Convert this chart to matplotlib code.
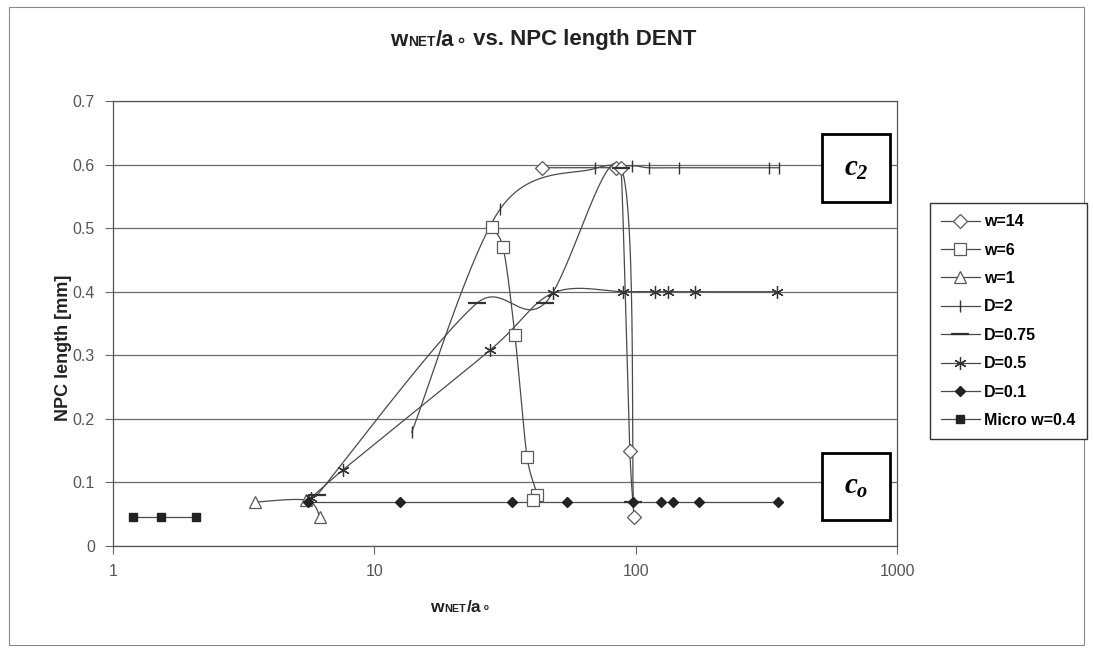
"""
wNET/a0 vs. NPC length DENT  (re-drawn from an Excel chart)
"""
import numpy as np
import matplotlib
matplotlib.use("Agg")
import matplotlib.pyplot as plt
from matplotlib.patches import Rectangle
from matplotlib.offsetbox import TextArea, HPacker, AnchoredOffsetbox

plt.rcParams['font.family'] = ['Liberation Sans', 'DejaVu Sans']
plt.rcParams['mathtext.fontset'] = 'custom'
plt.rcParams['mathtext.it'] = 'Liberation Serif:italic:bold'
plt.rcParams['mathtext.rm'] = 'Liberation Serif:italic:bold'

# ---- data ----
w14_x = [43.8, 84, 88, 95, 98.6]
w14_y = [0.595, 0.595, 0.595, 0.15, 0.045]

w6_x = [28.2, 31.1, 34.5, 38.4, 42.0, 40.5]
w6_y = [0.502, 0.47, 0.332, 0.14, 0.08, 0.072]

w1_x = [3.49, 5.5, 6.2]
w1_y = [0.069, 0.072, 0.046]

d2_x = [13.9, 30.3, 70, 97, 112, 146, 323, 355]
d2_y = [0.179, 0.53, 0.594, 0.598, 0.595, 0.595, 0.595, 0.595]

d075_x = [6.04, 24.7, 45, 88, 98]
d075_y = [0.08, 0.382, 0.382, 0.595, 0.07]

d05_x = [5.7, 7.6, 27.7, 48.3, 89.5, 118.6, 133, 168.8, 347.7]
d05_y = [0.075, 0.12, 0.308, 0.398, 0.40, 0.40, 0.40, 0.40, 0.40]

d01_x = [5.57, 12.5, 33.6, 54.6, 98, 125, 139, 175, 351]
d01_y = [0.07, 0.07, 0.07, 0.07, 0.07, 0.07, 0.07, 0.07, 0.07]

micro_x = [1.19, 1.53, 2.08]
micro_y = [0.045, 0.045, 0.045]

y_ticks = [0, 0.1, 0.2, 0.3, 0.4, 0.5, 0.6, 0.7]
y_labels = ['0', '0.1', '0.2', '0.3', '0.4', '0.5', '0.6', '0.7']
x_ticks = [1, 10, 100, 1000]
x_labels = ['1', '10', '100', '1000']

LINE = '#4a4a4a'
MARK = '#5a5a5a'

# rough screen scale of one decade / one mm on the chart, used only for smoothing
PX_DECADE = 261.0
PX_UNIT_Y = 636.0


def smooth(xs, ys, n=40, k=0.5):
    # Excel style smoothed line: cubic Bezier through the points, control
    # handles = neighbour difference / 6, limited to k * segment length.
    pts = np.column_stack([np.log10(xs) * PX_DECADE, np.asarray(ys) * PX_UNIT_Y])
    P = np.vstack([pts[0], pts, pts[-1]])
    t = np.linspace(0, 1, n)[:, None]
    segs = []
    for i in range(len(pts) - 1):
        p0, p1, p2, p3 = P[i], P[i + 1], P[i + 2], P[i + 3]
        seg_len = np.hypot(*(p2 - p1))
        h1 = (p2 - p0) / 6
        h2 = (p3 - p1) / 6
        for h in (h1, h2):
            ln = np.hypot(*h)
            if ln > k * seg_len and ln > 0:
                h *= k * seg_len / ln
        c1 = p1 + h1
        c2 = p2 - h2
        seg = ((1 - t) ** 3 * p1 + 3 * (1 - t) ** 2 * t * c1
               + 3 * (1 - t) * t ** 2 * c2 + t ** 3 * p2)
        segs.append(seg)
    c = np.vstack(segs)
    return 10 ** (c[:, 0] / PX_DECADE), c[:, 1] / PX_UNIT_Y


series = [
    ("w=14", w14_x, w14_y, dict(marker='D', ms=7, mfc='white', mec=MARK, mew=0.9)),
    ("w=6", w6_x, w6_y, dict(marker='s', ms=9, mfc='white', mec=MARK, mew=0.9)),
    ("w=1", w1_x, w1_y, dict(marker='^', ms=9, mfc='white', mec=MARK, mew=0.9)),
    ("D=2", d2_x, d2_y, dict(marker='|', ms=9, mec='#333333', mew=1.0)),
    ("D=0.75", d075_x, d075_y, dict(marker='_', ms=13, mec='#333333', mew=1.6)),
    ("D=0.5", d05_x, d05_y, dict(marker=(6, 2, 0), ms=9, mec='#333333', mew=0.9)),
    ("D=0.1", d01_x, d01_y, dict(marker='D', ms=5, mfc='#222222', mec='#222222')),
    ("Micro w=0.4", micro_x, micro_y, dict(marker='s', ms=5.5, mfc='#222222', mec='#222222')),
]

fig = plt.figure(figsize=(10.93, 6.53), dpi=100)
ax = fig.add_axes([113 / 1093, 107 / 653, 784 / 1093, 445 / 653])

handles = []
for name, xs, ys, style in series:
    sx, sy = smooth(xs, ys)
    ax.plot(sx, sy, color=LINE, lw=0.9, zorder=3)
    ax.plot(xs, ys, ls='none', zorder=4, **style)
    h, = ax.plot([], [], color=LINE, lw=0.9, **style)
    handles.append((h, name))

ax.set_xscale('log')
ax.set_xlim(1, 1000)
ax.set_ylim(0, 0.7)
ax.set_xticks(x_ticks)
ax.set_xticklabels(x_labels)
ax.xaxis.set_minor_locator(matplotlib.ticker.NullLocator())
ax.set_yticks(y_ticks)
ax.set_yticklabels(y_labels)
ax.tick_params(axis='both', direction='out', length=6, width=0.8, color='#666666',
               labelcolor='#555555', labelsize=11.5, pad=7)
ax.yaxis.grid(True, color='#6a6a6a', lw=0.9)
ax.set_axisbelow(True)
for s in ax.spines.values():
    s.set_color('#555555')
    s.set_linewidth(0.9)

# c2 / co boxes
for y0, txt in [(0.773, r'$c_2$'), (0.058, r'$c_o$')]:
    ax.add_patch(Rectangle((0.904, y0), 0.087, 0.152, transform=ax.transAxes,
                           facecolor='white', edgecolor='black', lw=2, zorder=6))
    ax.text(0.9475, y0 + 0.076, txt, transform=ax.transAxes, ha='center', va='center',
            fontsize=21, zorder=7)

# legend
leg = fig.legend([h for h, _ in handles], [n for _, n in handles], loc='upper left',
                 bbox_to_anchor=(922 / 1093, 1 - 195 / 653), numpoints=1, handlelength=2.4,
                 fancybox=False, edgecolor='#333333', framealpha=1, labelspacing=0.84,
                 borderpad=0.7, handletextpad=0.3, prop={'size': 11.5, 'weight': 'bold'})
leg.get_frame().set_linewidth(1.0)


def wnet_label(size, extra=""):
    bold = dict(fontweight='bold', color='#222222')
    parts = [TextArea("w", textprops=dict(size=size, **bold)),
             TextArea("NET", textprops=dict(size=size * 0.62, **bold)),
             TextArea("/a", textprops=dict(size=size, **bold)),
             TextArea("\u2218", textprops=dict(size=size * 0.8, **bold))]
    if extra:
        parts.append(TextArea(extra, textprops=dict(size=size, **bold)))
    return HPacker(children=parts, align="baseline", pad=0, sep=0.5)


title = AnchoredOffsetbox(loc='center', child=wnet_label(16, " vs. NPC length DENT"),
                          frameon=False, bbox_to_anchor=(543 / 1093, 1 - 40 / 653),
                          bbox_transform=fig.transFigure, pad=0, borderpad=0)
fig.add_artist(title)
xlab = AnchoredOffsetbox(loc='center', child=wnet_label(12.5), frameon=False,
                         bbox_to_anchor=(460 / 1093, 1 - 608 / 653),
                         bbox_transform=fig.transFigure, pad=0, borderpad=0)
fig.add_artist(xlab)

fig.text(64 / 1093, 1 - 348 / 653, "NPC length [mm]", rotation=90, ha='center', va='center',
         fontsize=13, fontweight='bold', color='#222222')

# chart area border
fig.add_artist(Rectangle((0.008, 0.012), 0.984, 0.978, transform=fig.transFigure,
                         fill=False, edgecolor='#888888', lw=0.8))

fig.savefig("out.png", dpi=100)
